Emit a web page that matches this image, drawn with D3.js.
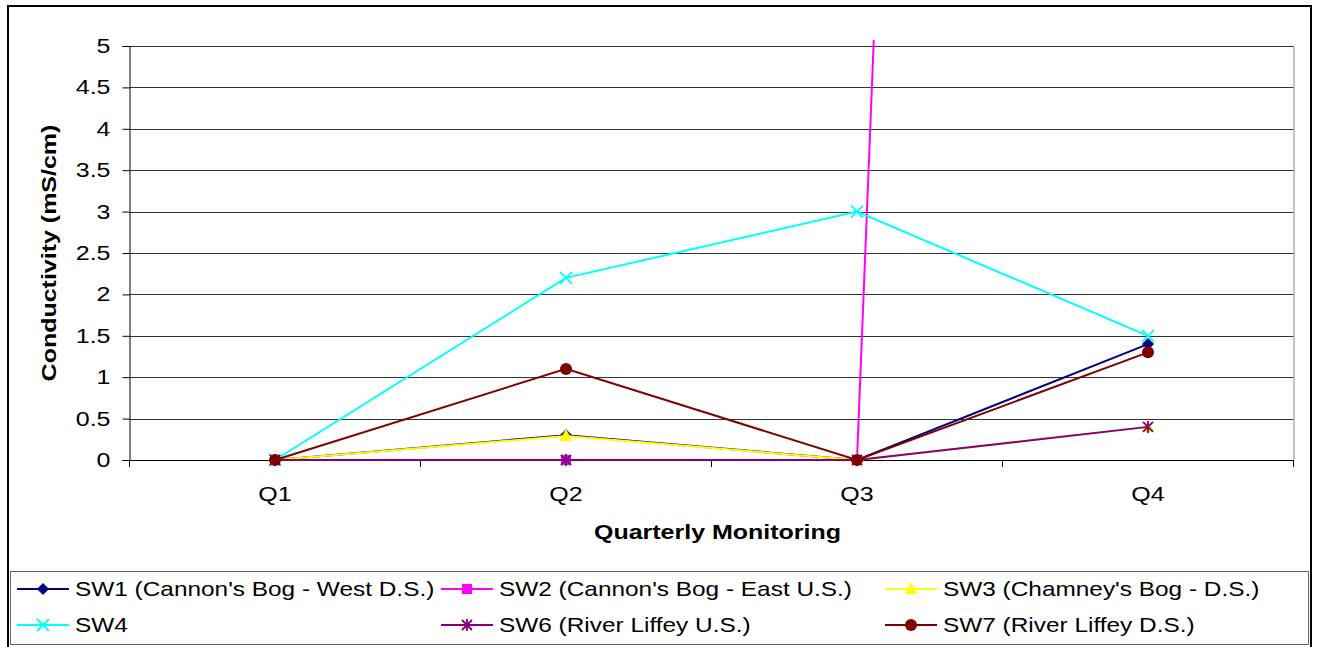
<!DOCTYPE html>
<html><head><meta charset="utf-8">
<script src="https://cdn.jsdelivr.net/npm/d3@7"></script>
<style>body{margin:0;background:#fff}svg{display:block;font-family:"Liberation Sans",Arial,sans-serif}</style>
</head><body><svg id="c" width="1318" height="647"></svg>
<script>
const categories = ["Q1", "Q2", "Q3", "Q4"];
const yTicks = [0, 0.5, 1, 1.5, 2, 2.5, 3, 3.5, 4, 4.5, 5];
const seriesNames = ["SW1 (Cannon's Bog - West D.S.)", "SW2 (Cannon's Bog - East U.S.)", "SW3 (Chamney's Bog - D.S.)", "SW4", "SW6 (River Liffey U.S.)", "SW7 (River Liffey D.S.)"];
const sw1 = [0, 0.3, 0, 1.4];
const sw2 = [0, 0, 0, 88];
const sw3 = [0, 0.29, 0, 0.4];
const sw4 = [0, 2.2, 3.0, 1.5];
const sw6 = [0, 0, 0, 0.4];
const sw7 = [0, 1.1, 0, 1.3];
const seriesValues = [sw1, sw2, sw3, sw4, sw6, sw7];
const colors = ["#000080", "#FF00FF", "#FFFF00", "#00FFFF", "#800080", "#800000"];
const markers = ["diamond", "square", "triangle", "x", "star", "circle"];

const SX = 1.25, SXL = 1.22, FS = 20;
const svg = d3.select("#c");
const L = 129.5, R = 1293.5, T = 46, B = 460;
const x = d3.scaleBand().domain(categories).range([L, R]);
const y = d3.scaleLinear().domain([0, 5]).range([B, T]);

svg.append("rect").attr("x", 8).attr("y", 6).attr("width", 1303).attr("height", 650)
  .attr("fill", "#fff").attr("stroke", "#000").attr("stroke-width", 2);

svg.append("g").selectAll("line").data(yTicks.filter(d => d > 0)).join("line")
  .attr("x1", L).attr("x2", R).attr("y1", d => Math.round(y(d)) + 0.5).attr("y2", d => Math.round(y(d)) + 0.5)
  .attr("stroke", "#333").attr("stroke-width", 1);
svg.append("line").attr("x1", R + 0.5).attr("x2", R + 0.5).attr("y1", T).attr("y2", B).attr("stroke", "#888");

function stretch(sel) {
  sel.each(function () {
    const t = d3.select(this);
    const ox = +(t.attr("x") || 0);
    t.attr("x", ox / SX).attr("transform", `scale(${SX},1)`);
  });
}

const yAxis = d3.axisLeft(y).tickValues(yTicks).tickSize(7).tickPadding(12).tickFormat(d3.format("~g"));
const gy = svg.append("g").attr("transform", `translate(${L},0)`).call(yAxis);
gy.select(".domain").attr("stroke", "#000");
gy.selectAll(".tick line").attr("stroke", "#000");
gy.selectAll("text").attr("font-size", FS).attr("fill", "#000").attr("font-family", "Liberation Sans, Arial").call(stretch);

const xAxis = d3.axisBottom(x).tickSize(0).tickPadding(27);
const gx = svg.append("g").attr("transform", `translate(0,${B})`).call(xAxis);
gx.select(".domain").attr("stroke", "#000");
gx.selectAll("text").attr("font-size", FS).attr("fill", "#000").attr("font-family", "Liberation Sans, Arial").call(stretch);
svg.append("g").selectAll("line").data(categories.concat(["end"])).join("line")
  .attr("x1", (d, i) => i < categories.length ? x(d) : R).attr("x2", (d, i) => i < categories.length ? x(d) : R)
  .attr("y1", B).attr("y2", B + 7).attr("stroke", "#000");

svg.append("text").attr("transform", `translate(56,${(T + B) / 2}) rotate(-90) scale(${SX},1)`).attr("text-anchor", "middle")
  .attr("font-size", FS).attr("font-weight", "bold").text("Conductivity (mS/cm)");
svg.append("text").attr("transform", `translate(${(L + R) / 2 + 6},539) scale(${SX},1)`).attr("text-anchor", "middle")
  .attr("font-size", FS).attr("font-weight", "bold").text("Quarterly Monitoring");

svg.append("clipPath").attr("id", "clip").append("rect").attr("x", L).attr("y", T - 6).attr("width", R - L).attr("height", B - T + 20);

function drawMarker(g, type, color, cx, cy) {
  const s = 5.5;
  if (type === "diamond") g.append("path").attr("d", `M${cx},${cy - s}L${cx + s},${cy}L${cx},${cy + s}L${cx - s},${cy}Z`).attr("fill", color).attr("stroke", color);
  else if (type === "square") g.append("rect").attr("x", cx - 5).attr("y", cy - 5).attr("width", 10).attr("height", 10).attr("fill", color);
  else if (type === "triangle") g.append("path").attr("d", `M${cx},${cy - 7}L${cx + 6.5},${cy + 5}L${cx - 6.5},${cy + 5}Z`).attr("fill", color);
  else if (type === "x") g.append("path").attr("d", `M${cx - 6},${cy - 6}L${cx + 6},${cy + 6}M${cx - 6},${cy + 6}L${cx + 6},${cy - 6}`).attr("stroke", color).attr("stroke-width", 1.8);
  else if (type === "star") g.append("path").attr("d", `M${cx - 5},${cy - 5}L${cx + 5},${cy + 5}M${cx - 5},${cy + 5}L${cx + 5},${cy - 5}M${cx},${cy - 6}L${cx},${cy + 6}`).attr("stroke", color).attr("stroke-width", 1.8);
  else if (type === "circle") g.append("circle").attr("cx", cx).attr("cy", cy).attr("r", 6).attr("fill", color);
}

const line = d3.line().x((d, i) => x(categories[i]) + x.bandwidth() / 2).y(d => y(d));
const plot = svg.append("g").attr("clip-path", "url(#clip)");
seriesValues.forEach((vals, si) => {
  const g = plot.append("g");
  g.append("path").datum(vals).attr("d", line).attr("fill", "none").attr("stroke", colors[si]).attr("stroke-width", 2);
  vals.forEach((v, i) => {
    if (v <= 5) drawMarker(g, markers[si], colors[si], x(categories[i]) + x.bandwidth() / 2, y(v));
  });
});

svg.append("rect").attr("x", 10.5).attr("y", 571.5).attr("width", 1298).attr("height", 73).attr("fill", "none").attr("stroke", "#666").attr("stroke-width", 1);
const legX = [17, 441, 885], legY = [589, 625];
seriesNames.forEach((name, si) => {
  const lx = legX[si % 3], ly = legY[Math.floor(si / 3)];
  const g = svg.append("g");
  g.append("line").attr("x1", lx).attr("x2", lx + 52).attr("y1", ly).attr("y2", ly).attr("stroke", colors[si]).attr("stroke-width", 2);
  drawMarker(g, markers[si], colors[si], lx + 26, ly);
  g.append("text").attr("transform", `translate(${lx + 58},${ly}) scale(${SXL},1)`).attr("dy", "0.35em").attr("font-size", FS).text(name);
});
</script></body></html>
